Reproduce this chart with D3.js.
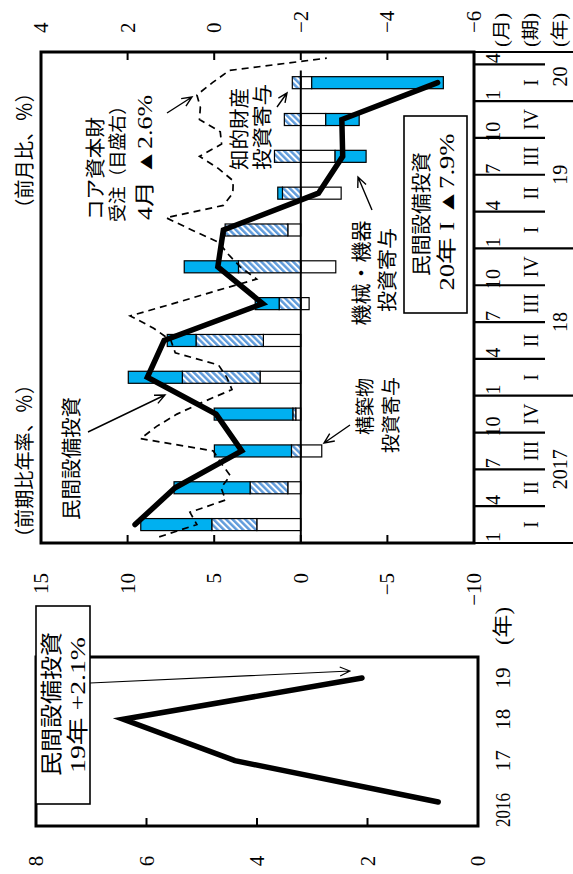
<!DOCTYPE html>
<html><head><meta charset="utf-8">
<script src="https://cdn.jsdelivr.net/npm/d3@7"></script>
<style>
html,body{margin:0;padding:0;background:#fff;}
svg{display:block;background:#fff;}
text{font-family:"Liberation Serif","Noto Sans CJK JP",serif;fill:#000;}
</style></head><body>
<svg id="chart" width="573" height="874"></svg>
<script>
// ---------- data ----------
const annualYears = ["2016", "17", "18", "19"];
const annualCapex = [0.72, 4.40, 6.42, 2.10];
const annualTicks = [0, 2, 4, 6, 8];

const yearLabels = ["2017", "18", "19", "20"];
const quarterLabels = ["I","II","III","IV","I","II","III","IV","I","II","III","IV","I"];
const monthNumbers = [1,2,3,4,5,6,7,8,9,10,11,12, 1,2,3,4,5,6,7,8,9,10,11,12, 1,2,3,4,5,6,7,8,9,10,11,12, 1,2,3,4];
const monthLabelSet = [1, 4, 7, 10];

// contributions (前期比年率、%)
const structures   = [2.54, 0.75, -1.21, 0.29, 2.35, 2.16, -0.48, -2.02, 0.75, -2.33, -1.98, -1.44, -0.63];
const intellectual = [2.60, 2.18, 0.54, 0.17, 4.49, 3.89, 1.25, 3.60, 3.62, 1.06, 1.52, 0.95, 0.49];
const machinery    = [4.10, 4.39, 4.45, 4.54, 3.12, 1.66, 1.38, 3.13, 0.00, 0.27, -1.79, -1.93, -7.60];
const capexQoQ     = [9.57, 7.26, 3.41, 4.89, 8.86, 7.89, 2.20, 4.79, 4.47, -1.02, -2.42, -2.37, -7.90];
// core capital goods orders (前月比、%), monthly Jan 2017 - Apr 2020
const coreOrders = [1.27, 0.40, 0.56, -0.26, -0.16, -0.37, -0.16, 0.02, 1.70, 1.33, 0.86, 0.25,
                    -0.41, -0.29, -0.10, 0.90, 1.00, 1.40, 1.94, 0.95, 0.00, -0.98, -0.60, -0.33,
                    -0.10, 0.52, 1.11, -0.21, -0.43, -0.44, -0.10, 0.34, -0.17, -0.14, 0.34, 0.32,
                    0.40, 0.04, -0.35, -2.60];
const leftTicks = [-10, -5, 0, 5, 10, 15];
const rightTicks = [-6, -4, -2, 0, 2, 4];

// ---------- setup ----------
const svg = d3.select("#chart");
const defs = svg.append("defs");
const pat = defs.append("pattern").attr("id", "hatch").attr("patternUnits", "userSpaceOnUse")
  .attr("width", 4.5).attr("height", 4.5).attr("patternTransform", "rotate(45)");
pat.append("rect").attr("width", 4.5).attr("height", 4.5).attr("fill", "#ffffff");
pat.append("rect").attr("width", 2.5).attr("height", 4.5).attr("fill", "#5f9bdb");

// the whole figure is drawn in its own (landscape) frame and turned a quarter turn
const g = svg.append("g").attr("transform", "translate(0,874) rotate(-90)");

const fmt = v => (v < 0 ? "\u2212" + Math.abs(v) : "" + v);

function txt(sel, x, y, s, o = {}) {
  const t = sel.append("text").attr("x", x).attr("y", y).text(s)
    .attr("dominant-baseline", "central")
    .attr("text-anchor", o.anchor || "start")
    .style("font-size", (o.size || 19) + "px");
  if (o.len) t.attr("textLength", o.len).attr("lengthAdjust", "spacingAndGlyphs");
  return t;
}
function arrow(sel, x1, y1, x2, y2, size, sw) {
  const a = Math.atan2(y2 - y1, x2 - x1), w = 0.42;
  const p = d3.path();
  p.moveTo(x1, y1); p.lineTo(x2, y2);
  p.moveTo(x2 - size * Math.cos(a - w), y2 - size * Math.sin(a - w));
  p.lineTo(x2, y2);
  p.lineTo(x2 - size * Math.cos(a + w), y2 - size * Math.sin(a + w));
  sel.append("path").attr("d", p.toString()).attr("fill", "none")
    .attr("stroke", "#000").attr("stroke-width", sw);
}

// ---------- annual panel ----------
const A = {x0: 48, x1: 217, y0: 36, y1: 478};
const xA = d3.scalePoint().domain(annualYears).range([72, 196]);
const yA = d3.scaleLinear().domain([0, 8]).range([A.y1, A.y0]);
const ga = g.append("g");
ga.append("rect").attr("x", A.x0).attr("y", A.y0).attr("width", A.x1 - A.x0).attr("height", A.y1 - A.y0)
  .attr("fill", "none").attr("stroke", "#000").attr("stroke-width", 3);
ga.selectAll("line.tk").data(annualTicks.filter(v => v > 0 && v < 8)).join("line")
  .attr("x1", A.x0).attr("x2", A.x0 + 8).attr("y1", d => yA(d)).attr("y2", d => yA(d))
  .attr("stroke", "#000").attr("stroke-width", 2);
annualTicks.forEach(v => txt(ga, 13, yA(v), fmt(v), {anchor: "middle", size: 21}));
ga.append("path").datum(annualCapex)
  .attr("d", d3.line().x((d, i) => xA(annualYears[i])).y(d => yA(d)))
  .attr("fill", "none").attr("stroke", "#000").attr("stroke-width", 5.5)
  .attr("stroke-linecap", "round").attr("stroke-linejoin", "miter");
annualYears.forEach((y, i) => {
  if (i === 0) txt(ga, xA(y) + 9, 503, y, {anchor: "end", size: 21, len: 34});
  else txt(ga, xA(y), 503, y, {anchor: "middle", size: 21});
});
txt(ga, 229, 503, "(年)", {size: 20, len: 38});
// annotation box
ga.append("rect").attr("x", 70).attr("y", 36).attr("width", 198).attr("height", 54)
  .attr("fill", "#fff").attr("stroke", "#000").attr("stroke-width", 1.6);
txt(ga, 170, 51, "民間設備投資", {anchor: "middle", size: 22, len: 144});
txt(ga, 169, 77, "19年 +2.1%", {anchor: "middle", size: 22, len: 136});
arrow(ga, 191, 90, xA("19") + 7, yA(annualCapex[3]) - 12, 11, 1.1);

// ---------- main panel ----------
const M = {x0: 331, x1: 822, y0: 41, y1: 474};
const xM = d3.scaleBand().domain(d3.range(monthNumbers.length)).range([M.x0, M.x1]);
const bw = xM.bandwidth();
const mc = i => xM(i) + bw / 2;
const yL = d3.scaleLinear().domain([-10, 15]).range([M.y1, M.y0]);
const yR = d3.scaleLinear().domain([-6, 4]).range([M.y1, M.y0]);
const gm = g.append("g");

const rows = quarterLabels.map((q, i) => ({i, S: structures[i], IP: intellectual[i], M: machinery[i]}));
const series = d3.stack().keys(["S", "IP", "M"]).offset(d3.stackOffsetDiverging)(rows);
const fills = {S: "#ffffff", IP: "url(#hatch)", M: "#00b0f0"};
const barW = bw * 0.98;
series.forEach(s => {
  gm.append("g").selectAll("rect").data(s).join("rect")
    .attr("x", d => mc(d.data.i * 3 + 1) - barW / 2)
    .attr("width", barW)
    .attr("y", d => yL(Math.max(d[0], d[1])))
    .attr("height", d => Math.abs(yL(d[0]) - yL(d[1])))
    .attr("fill", fills[s.key]).attr("stroke", "#000").attr("stroke-width", 1.2);
});
// zero line
gm.append("line").attr("x1", M.x0).attr("x2", mc(38)).attr("y1", yL(0)).attr("y2", yL(0))
  .attr("stroke", "#000").attr("stroke-width", 2);
// core orders dashed line (right scale)
gm.append("path").datum(coreOrders)
  .attr("d", d3.line().x((d, i) => mc(i)).y(d => yR(d)))
  .attr("fill", "none").attr("stroke", "#000").attr("stroke-width", 1.7)
  .attr("stroke-dasharray", "7,5");
// capex line (left scale)
gm.append("path").datum(capexQoQ)
  .attr("d", d3.line().x((d, i) => mc(i * 3 + 1)).y(d => yL(d)))
  .attr("fill", "none").attr("stroke", "#000").attr("stroke-width", 5.5)
  .attr("stroke-linecap", "round").attr("stroke-linejoin", "miter");
// frame
gm.append("rect").attr("x", M.x0).attr("y", M.y0).attr("width", M.x1 - M.x0).attr("height", M.y1 - M.y0)
  .attr("fill", "none").attr("stroke", "#000").attr("stroke-width", 3);
// ticks
leftTicks.filter(v => v > -10 && v < 15).forEach(v =>
  gm.append("line").attr("x1", M.x0).attr("x2", M.x0 + 8).attr("y1", yL(v)).attr("y2", yL(v))
    .attr("stroke", "#000").attr("stroke-width", 2));
rightTicks.filter(v => v > -6 && v < 4).forEach(v =>
  gm.append("line").attr("x1", M.x1 - 8).attr("x2", M.x1).attr("y1", yR(v)).attr("y2", yR(v))
    .attr("stroke", "#000").attr("stroke-width", 2));
leftTicks.forEach(v => txt(gm, 301, yL(v), fmt(v), {anchor: "end", size: 21}));
rightTicks.forEach(v => txt(gm, 841, yR(v), fmt(v), {anchor: "start", size: 21}));
txt(gm, 327, 25, "（前期比年率、％）", {size: 20, len: 172});
txt(gm, 656, 25, "（前月比、％）", {size: 20, len: 135});

// category axis
const nM = monthNumbers.length;
const bx = idx => M.x0 + idx * bw;
for (let idx = 0; idx <= nM; idx += 3) {
  const isYear = idx % 12 === 0;
  gm.append("line").attr("x1", bx(idx)).attr("x2", bx(idx)).attr("y1", M.y1).attr("y2", isYear ? 573 : 545)
    .attr("stroke", "#000").attr("stroke-width", 2.2);
}
gm.append("line").attr("x1", bx(nM)).attr("x2", bx(nM)).attr("y1", M.y1).attr("y2", 573)
  .attr("stroke", "#000").attr("stroke-width", 2.2);
monthNumbers.forEach((m, i) => {
  if (monthLabelSet.includes(m)) txt(gm, mc(i), 493, "" + m, {anchor: "middle", size: 20});
});
quarterLabels.forEach((q, i) => {
  const a = i * 3, b = Math.min(i * 3 + 3, nM);
  txt(gm, (bx(a) + bx(b)) / 2, 531, q, {anchor: "middle", size: 20});
});
yearLabels.forEach((y, i) => {
  const a = i * 12, b = Math.min(i * 12 + 12, nM);
  txt(gm, (bx(a) + bx(b)) / 2, 560, y, {anchor: "middle", size: 20});
});
txt(gm, 827, 502, "(月)", {size: 18, len: 34});
txt(gm, 827, 531, "(期)", {size: 18, len: 34});
txt(gm, 827, 560, "(年)", {size: 18, len: 34});

// annotations
txt(gm, 354, 72, "民間設備投資", {size: 20, len: 123});
arrow(gm, 442, 88, 479, 165, 11, 1.4);
txt(gm, 496, 365, "構築物", {anchor: "end", size: 19});
txt(gm, 497, 391, "投資寄与", {anchor: "end", size: 19});
arrow(gm, 449, 350, 431, 324, 11, 1.4);
txt(gm, 601, 362, "機械・機器", {anchor: "middle", size: 20, len: 105});
txt(gm, 604, 388, "投資寄与", {anchor: "middle", size: 20, len: 84});
arrow(gm, 664, 372, 697, 358, 11, 1.4);
txt(gm, 704, 240, "知的財産", {size: 20, len: 82});
txt(gm, 704, 263, "投資寄与", {size: 20, len: 86});
arrow(gm, 767, 277, 781, 287, 10, 1.4);
txt(gm, 654, 96, "コア資本財", {size: 20, len: 103});
txt(gm, 652, 118, "受注（目盛右）", {size: 18, len: 125});
txt(gm, 654, 145, "4月 ▲2.6%", {size: 20, len: 125});
arrow(gm, 761, 167, 777, 192, 11, 1.4);
gm.append("rect").attr("x", 561).attr("y", 404).attr("width", 197).attr("height", 63)
  .attr("fill", "#fff").attr("stroke", "#000").attr("stroke-width", 1.6);
txt(gm, 660, 422, "民間設備投資", {anchor: "middle", size: 20, len: 124});
txt(gm, 662, 447, "20年 I ▲7.9%", {anchor: "middle", size: 20, len: 157});
</script>
</body></html>
